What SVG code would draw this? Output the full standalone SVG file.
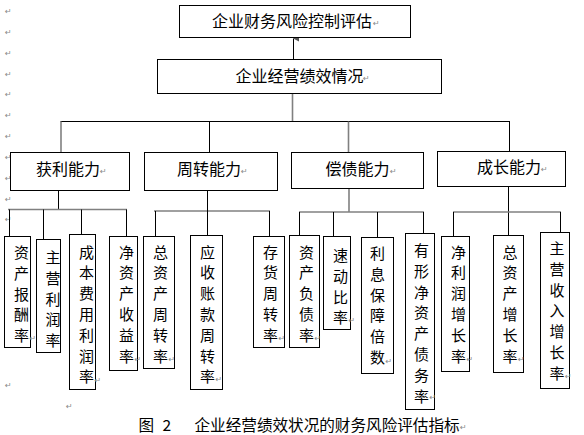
<svg xmlns="http://www.w3.org/2000/svg" width="584" height="435" viewBox="0 0 584 435">
<style>
.box{fill:#fff;stroke:#000;stroke-width:1}
.t{font-family:"Noto Sans CJK SC","Noto Sans CJK JP",sans-serif;font-size:16px;fill:#000}
.v{font-family:"Noto Sans CJK SC","Noto Sans CJK JP",sans-serif;font-size:15px;fill:#000;text-anchor:middle}
.cap{font-family:"Noto Sans CJK SC","Noto Sans CJK JP",sans-serif;font-size:15.6px;fill:#000}
.pm{font-family:"DejaVu Sans",sans-serif;font-size:8px;fill:#888}
.k{stroke:#000;stroke-width:1;fill:none}
.g{stroke:#808080;stroke-width:1.6;fill:none}
</style>
<defs>
<marker id="ah" viewBox="0 0 8 8" refX="4" refY="0.5" markerWidth="6" markerHeight="6" orient="auto-start-reverse" markerUnits="userSpaceOnUse">
<path d="M0,8 L4,0 L8,8 Z" fill="#555"/>
</marker>
</defs>
<rect width="584" height="435" fill="#fff"/>
<g id="para-marks" class="pm">
<text x="5" y="14">↵</text>
<text x="5" y="35">↵</text>
<text x="5" y="56">↵</text>
<text x="5" y="77">↵</text>
<text x="5" y="97">↵</text>
<text x="5" y="118">↵</text>
<text x="5" y="139">↵</text>
<text x="5" y="160">↵</text>
<text x="5" y="181">↵</text>
<text x="5" y="202">↵</text>
<text x="5" y="222">↵</text>
<text x="5" y="388">↵</text>
<text x="66" y="409">↵</text>
</g>
<g id="connectors">
<line class="k" x1="293.5" y1="59" x2="293.5" y2="38.5" marker-end="url(#ah)"/>
<line class="g" x1="292.5" y1="93.5" x2="292.5" y2="121"/>
<line class="k" x1="60.5" y1="121.5" x2="510" y2="121.5"/>
<line class="g" x1="61" y1="121.5" x2="61" y2="152.5"/>
<line class="k" x1="209.5" y1="121.5" x2="209.5" y2="152.5"/>
<line class="g" x1="348.5" y1="121.5" x2="348.5" y2="152.5"/>
<line class="k" x1="509.5" y1="121.5" x2="509.5" y2="151.5"/>
<line class="k" x1="58.5" y1="190.5" x2="58.5" y2="209.5"/>
<line class="g" x1="8" y1="209.5" x2="127" y2="209.5"/>
<line class="k" x1="9.5" y1="209.5" x2="9.5" y2="236"/>
<line class="k" x1="43.5" y1="209.5" x2="43.5" y2="239.5"/>
<line class="k" x1="81.5" y1="209.5" x2="81.5" y2="234.5"/>
<line class="k" x1="126.5" y1="209.5" x2="126.5" y2="236"/>
<line class="g" x1="154" y1="211" x2="270" y2="211"/>
<line class="k" x1="207.5" y1="190.5" x2="207.5" y2="235"/>
<line class="k" x1="155.5" y1="211" x2="155.5" y2="236"/>
<line class="k" x1="269.5" y1="211" x2="269.5" y2="236"/>
<line class="g" x1="349" y1="188.5" x2="349" y2="212"/>
<line class="g" x1="299" y1="212" x2="424" y2="212"/>
<line class="k" x1="299.5" y1="212" x2="299.5" y2="235"/>
<line class="k" x1="333.5" y1="212" x2="333.5" y2="236.5"/>
<line class="k" x1="377.5" y1="212" x2="377.5" y2="237.5"/>
<line class="k" x1="423.5" y1="212" x2="423.5" y2="233.5"/>
<line class="k" x1="508.5" y1="186.5" x2="508.5" y2="235"/>
<line class="g" x1="453" y1="212" x2="561" y2="212"/>
<line class="k" x1="453.5" y1="212" x2="453.5" y2="236"/>
<line class="k" x1="560.5" y1="212" x2="560.5" y2="232.5"/>
</g>
<g id="n-top">
<rect class="box" x="179.5" y="5.5" width="231" height="32"/>
<text class="t" x="212" y="27">企业财务风险控制评估</text><text class="pm" x="373" y="26">↵</text>
</g>
<g id="n-perf">
<rect class="box" x="157.5" y="59.5" width="284" height="34"/>
<text class="t" x="235.5" y="81.5">企业经营绩效情况</text><text class="pm" x="363" y="81">↵</text>
</g>
<g id="n-profit">
<rect class="box" x="10.5" y="152.5" width="119" height="38"/>
<text class="t" x="36" y="174.5">获利能力</text><text class="pm" x="100" y="174">↵</text>
</g>
<g id="n-turnover">
<rect class="box" x="144.5" y="152.5" width="133" height="38"/>
<text class="t" x="177" y="174.5">周转能力</text><text class="pm" x="241" y="174">↵</text>
</g>
<g id="n-solvency">
<rect class="box" x="291.5" y="152.5" width="132" height="36"/>
<text class="t" x="325.5" y="174.5">偿债能力</text><text class="pm" x="390" y="174">↵</text>
</g>
<g id="n-growth">
<rect class="box" x="437.5" y="151.5" width="128" height="35"/>
<text class="t" x="477" y="172.5">成长能力</text><text class="pm" x="541" y="172">↵</text>
</g>
<g id="n-l1">
<rect class="box" x="4.5" y="236.5" width="26" height="111"/>
<text class="v" x="21.5" y="258"><tspan x="21.5">资</tspan><tspan x="21.5" dy="20.8">产</tspan><tspan x="21.5" dy="20.8">报</tspan><tspan x="21.5" dy="20.8">酬</tspan><tspan x="21.5" dy="20.8">率</tspan></text>
<text class="pm" x="29.5" y="341">↵</text>
</g>
<g id="n-l2">
<rect class="box" x="36.5" y="239.5" width="24" height="113"/>
<text class="v" x="53" y="263"><tspan x="53">主</tspan><tspan x="53" dy="20.8">营</tspan><tspan x="53" dy="20.8">利</tspan><tspan x="53" dy="20.8">润</tspan><tspan x="53" dy="20.8">率</tspan></text>
</g>
<g id="n-l3">
<rect class="box" x="69.5" y="234.5" width="26" height="155"/>
<text class="v" x="86.5" y="257.5"><tspan x="86.5">成</tspan><tspan x="86.5" dy="20.8">本</tspan><tspan x="86.5" dy="20.8">费</tspan><tspan x="86.5" dy="20.8">用</tspan><tspan x="86.5" dy="20.8">利</tspan><tspan x="86.5" dy="20.8">润</tspan><tspan x="86.5" dy="20.8">率</tspan></text>
<text class="pm" x="94.5" y="383">↵</text>
</g>
<g id="n-l4">
<rect class="box" x="109.5" y="236.5" width="28" height="134"/>
<text class="v" x="126.5" y="257.5"><tspan x="126.5">净</tspan><tspan x="126.5" dy="20.8">资</tspan><tspan x="126.5" dy="20.8">产</tspan><tspan x="126.5" dy="20.8">收</tspan><tspan x="126.5" dy="20.8">益</tspan><tspan x="126.5" dy="20.8">率</tspan></text>
<text class="pm" x="134.5" y="362">↵</text>
</g>
<g id="n-t1">
<rect class="box" x="143.5" y="236.5" width="31" height="132"/>
<text class="v" x="160.5" y="257.5"><tspan x="160.5">总</tspan><tspan x="160.5" dy="20.8">资</tspan><tspan x="160.5" dy="20.8">产</tspan><tspan x="160.5" dy="20.8">周</tspan><tspan x="160.5" dy="20.8">转</tspan><tspan x="160.5" dy="20.8">率</tspan></text>
<text class="pm" x="168.5" y="362">↵</text>
</g>
<g id="n-t2">
<rect class="box" x="190.5" y="235.5" width="32" height="154"/>
<text class="v" x="207.5" y="257.5"><tspan x="207.5">应</tspan><tspan x="207.5" dy="20.8">收</tspan><tspan x="207.5" dy="20.8">账</tspan><tspan x="207.5" dy="20.8">款</tspan><tspan x="207.5" dy="20.8">周</tspan><tspan x="207.5" dy="20.8">转</tspan><tspan x="207.5" dy="20.8">率</tspan></text>
<text class="pm" x="215.5" y="382">↵</text>
</g>
<g id="n-t3">
<rect class="box" x="253.5" y="236.5" width="31" height="111"/>
<text class="v" x="270.5" y="257.5"><tspan x="270.5">存</tspan><tspan x="270.5" dy="20.8">货</tspan><tspan x="270.5" dy="20.8">周</tspan><tspan x="270.5" dy="20.8">转</tspan><tspan x="270.5" dy="20.8">率</tspan></text>
<text class="pm" x="278.5" y="341">↵</text>
</g>
<g id="n-s1">
<rect class="box" x="289.5" y="235.5" width="30" height="112"/>
<text class="v" x="306.5" y="257.5"><tspan x="306.5">资</tspan><tspan x="306.5" dy="20.8">产</tspan><tspan x="306.5" dy="20.8">负</tspan><tspan x="306.5" dy="20.8">债</tspan><tspan x="306.5" dy="20.8">率</tspan></text>
<text class="pm" x="314.5" y="341">↵</text>
</g>
<g id="n-s2">
<rect class="box" x="323.5" y="236.5" width="27" height="93"/>
<text class="v" x="340.5" y="261"><tspan x="340.5">速</tspan><tspan x="340.5" dy="20.8">动</tspan><tspan x="340.5" dy="20.8">比</tspan><tspan x="340.5" dy="20.8">率</tspan></text>
<text class="pm" x="348.5" y="323">↵</text>
</g>
<g id="n-s3">
<rect class="box" x="361.5" y="237.5" width="32" height="136"/>
<text class="v" x="377.5" y="259"><tspan x="377.5">利</tspan><tspan x="377.5" dy="20.8">息</tspan><tspan x="377.5" dy="20.8">保</tspan><tspan x="377.5" dy="20.8">障</tspan><tspan x="377.5" dy="20.8">倍</tspan><tspan x="377.5" dy="20.8">数</tspan></text>
<text class="pm" x="385.5" y="364">↵</text>
</g>
<g id="n-s4">
<rect class="box" x="405.5" y="233.5" width="29" height="176"/>
<text class="v" x="421.5" y="256"><tspan x="421.5">有</tspan><tspan x="421.5" dy="20.8">形</tspan><tspan x="421.5" dy="20.8">净</tspan><tspan x="421.5" dy="20.8">资</tspan><tspan x="421.5" dy="20.8">产</tspan><tspan x="421.5" dy="20.8">债</tspan><tspan x="421.5" dy="20.8">务</tspan><tspan x="421.5" dy="20.8">率</tspan></text>
<text class="pm" x="429.5" y="400">↵</text>
</g>
<g id="n-g1">
<rect class="box" x="441.5" y="236.5" width="28" height="135"/>
<text class="v" x="458.5" y="257.5"><tspan x="458.5">净</tspan><tspan x="458.5" dy="20.8">利</tspan><tspan x="458.5" dy="20.8">润</tspan><tspan x="458.5" dy="20.8">增</tspan><tspan x="458.5" dy="20.8">长</tspan><tspan x="458.5" dy="20.8">率</tspan></text>
<text class="pm" x="466.5" y="362">↵</text>
</g>
<g id="n-g2">
<rect class="box" x="493.5" y="235.5" width="30" height="137"/>
<text class="v" x="510" y="257.5"><tspan x="510">总</tspan><tspan x="510" dy="20.8">资</tspan><tspan x="510" dy="20.8">产</tspan><tspan x="510" dy="20.8">增</tspan><tspan x="510" dy="20.8">长</tspan><tspan x="510" dy="20.8">率</tspan></text>
<text class="pm" x="518" y="362">↵</text>
</g>
<g id="n-g3">
<rect class="box" x="540.5" y="232.5" width="29" height="156"/>
<text class="v" x="557" y="254"><tspan x="557">主</tspan><tspan x="557" dy="20.8">营</tspan><tspan x="557" dy="20.8">收</tspan><tspan x="557" dy="20.8">入</tspan><tspan x="557" dy="20.8">增</tspan><tspan x="557" dy="20.8">长</tspan><tspan x="557" dy="20.8">率</tspan></text>
<text class="pm" x="565" y="379">↵</text>
</g>
<g id="caption">
<text class="cap" x="138.5" y="431">图</text>
<text class="cap" x="162.5" y="431">2</text>
<text class="cap" x="194.5" y="431">企业经营绩效状况的财务风险评估指标</text>
<text class="pm" x="460" y="430">↵</text>
</g>
</svg>
